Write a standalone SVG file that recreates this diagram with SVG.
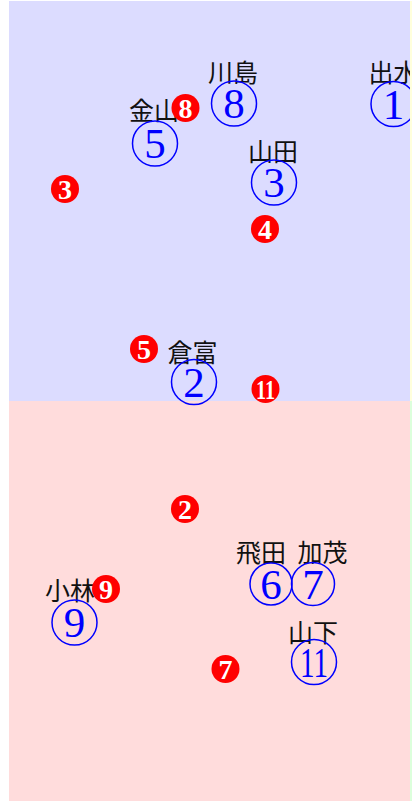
<svg xmlns="http://www.w3.org/2000/svg" width="412" height="802" viewBox="0 0 412 802">
<style>
.ring{fill:none;stroke:#0000FF;stroke-width:1.5}
.num{font-family:"Liberation Serif","DejaVu Serif",serif;font-size:43px;fill:#0000FF;text-anchor:middle}
.lbl{font-family:"Noto Sans CJK JP","Noto Sans CJK SC",sans-serif;font-size:25px;fill:#111;text-anchor:middle}
.dot{fill:#FF0000}
.dnum{font-family:"Liberation Serif","DejaVu Serif",serif;font-weight:bold;font-size:28px;fill:#FFFFFF;text-anchor:middle}
</style>
<g id="regions">
<rect x="9" y="1" width="401" height="400" fill="#DCDCFF"/>
<rect x="9" y="401" width="401" height="400" fill="#FFDCDC"/>
</g>
<g id="connectors"/>
<g id="node-1"><text class="lbl" x="393.5" y="81.5">出水</text><circle class="ring" cx="393.5" cy="104" r="22.5"/><text class="num" x="393.5" y="118.5">1</text></g>
<g id="node-8"><text class="lbl" x="233" y="81.5">川島</text><circle class="ring" cx="234" cy="103.5" r="22.5"/><text class="num" x="234" y="118">8</text></g>
<g id="node-5"><text class="lbl" x="154" y="120">金山</text><circle class="ring" cx="155" cy="143.5" r="22.5"/><text class="num" x="155" y="158">5</text></g>
<g id="node-3"><text class="lbl" x="273" y="160.5">山田</text><circle class="ring" cx="274" cy="182.5" r="22.5"/><text class="num" x="274" y="197">3</text></g>
<g id="node-2"><text class="lbl" x="192.5" y="361.5">倉富</text><circle class="ring" cx="194" cy="382" r="22.5"/><text class="num" x="194" y="396.5">2</text></g>
<g id="node-6"><text class="lbl" x="261" y="561.5">飛田</text><circle class="ring" cx="271" cy="584" r="21"/><text class="num" x="271" y="598.5">6</text></g>
<g id="node-7"><text class="lbl" x="322.5" y="561.5">加茂</text><circle class="ring" cx="313" cy="584" r="21.5"/><text class="num" x="313" y="598.5">7</text></g>
<g id="node-11"><text class="lbl" x="313" y="641.5">山下</text><circle class="ring" cx="314" cy="662" r="22.5"/><text class="num" x="314" y="676.5" textLength="28" lengthAdjust="spacingAndGlyphs">11</text></g>
<g id="node-9"><text class="lbl" x="70" y="600">小林</text><circle class="ring" cx="74.5" cy="622.5" r="22.5"/><text class="num" x="74.5" y="637">9</text></g>
<g id="marker-8"><circle class="dot" cx="185.5" cy="108" r="14"/><text class="dnum" x="185.5" y="117.5">8</text></g>
<g id="marker-3"><circle class="dot" cx="65" cy="189" r="14"/><text class="dnum" x="65" y="198.5">3</text></g>
<g id="marker-4"><circle class="dot" cx="265" cy="229" r="14"/><text class="dnum" x="265" y="238.5">4</text></g>
<g id="marker-5"><circle class="dot" cx="144" cy="349" r="14"/><text class="dnum" x="144" y="358.5">5</text></g>
<g id="marker-11"><circle class="dot" cx="265.5" cy="389" r="14"/><text class="dnum" x="265.5" y="398.5" textLength="19" lengthAdjust="spacingAndGlyphs">11</text></g>
<g id="marker-2"><circle class="dot" cx="185" cy="509" r="14"/><text class="dnum" x="185" y="518.5">2</text></g>
<g id="marker-9"><circle class="dot" cx="106" cy="589" r="14"/><text class="dnum" x="106" y="598.5">9</text></g>
<g id="marker-7"><circle class="dot" cx="225.5" cy="669" r="14"/><text class="dnum" x="225.5" y="678.5">7</text></g>
<g id="edge-strips">
<rect x="410" y="1" width="2" height="400" fill="#FFFFDC"/>
<rect x="410" y="401" width="2" height="400" fill="#DCFFDC"/>
</g>
</svg>
